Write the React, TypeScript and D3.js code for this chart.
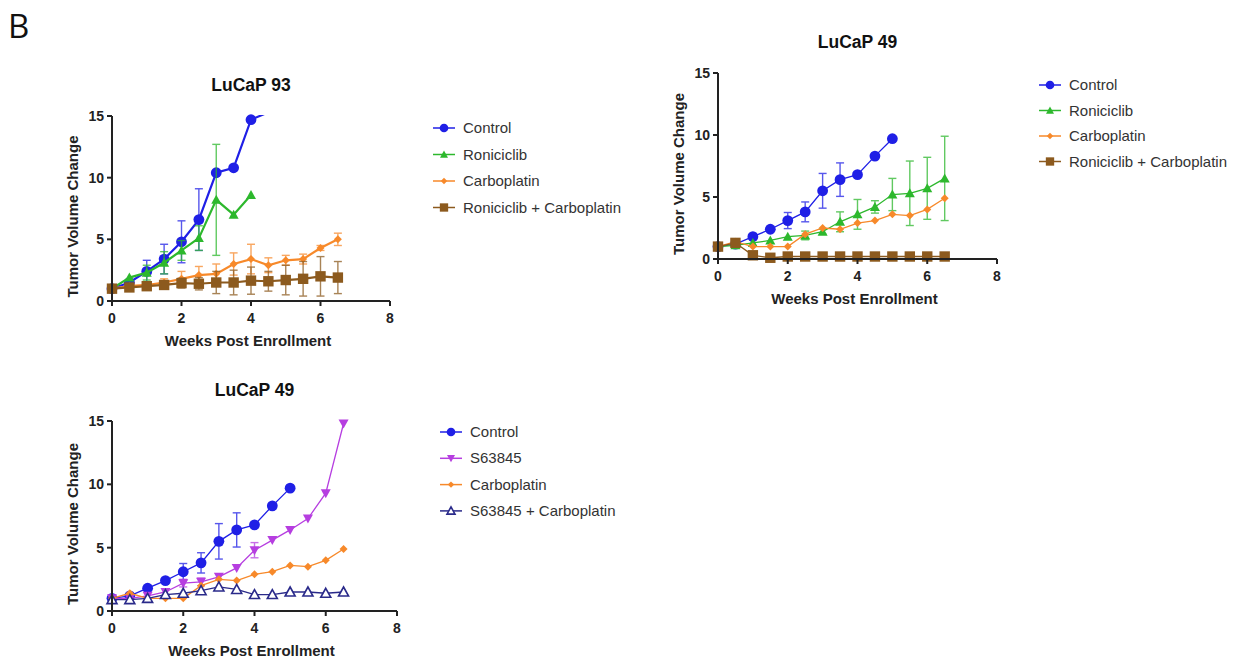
import React from 'react';
import * as d3 from 'd3';

// weeks post enrollment (shared x values)
const weeks = [0, 0.5, 1, 1.5, 2, 2.5, 3, 3.5, 4, 4.5, 5, 5.5, 6, 6.5];

// LuCaP 93
const lc93Control = [1, 1.5, 2.4, 3.4, 4.8, 6.6, 10.4, 10.8, 14.7, 15.3];
const lc93ControlErr = [0, 0, 0.9, 1.2, 1.7, 2.5, 0, 0, 0, 0];
const lc93Ronic = [1, 1.9, 2.3, 3.1, 4.1, 5.1, 8.2, 7.0, 8.6];
const lc93RonicErr = [0, 0, 0.6, 0.9, 0.8, 1.0, 4.5, 0, 0];
const lc93Carbo = [1, 1.2, 1.3, 1.5, 1.8, 2.1, 2.2, 3.0, 3.4, 2.9, 3.3, 3.4, 4.3, 5.0];
const lc93CarboErr = [0, 0, 0.2, 0.3, 0.6, 0.7, 0.8, 0.9, 1.2, 0.6, 0.4, 0.4, 0.2, 0.5];
const lc93Combo = [1, 1.1, 1.2, 1.3, 1.45, 1.4, 1.5, 1.5, 1.65, 1.6, 1.7, 1.8, 2.0, 1.9];
const lc93ComboErr = [0, 0.1, 0.2, 0.3, 0.4, 0.5, 0.9, 1.0, 1.1, 0.8, 1.2, 1.4, 1.6, 1.3];

// LuCaP 49
const lc49Control = [1, 1.2, 1.8, 2.4, 3.1, 3.8, 5.5, 6.4, 6.8, 8.3, 9.7];
const lc49ControlErr = [0, 0, 0, 0, 0.65, 0.8, 1.4, 1.35, 0, 0, 0];
const lc49Ronic = [1, 1.1, 1.3, 1.5, 1.8, 1.9, 2.2, 3.0, 3.6, 4.2, 5.2, 5.3, 5.7, 6.5];
const lc49RonicErr = [0, 0, 0, 0, 0, 0.35, 0.2, 0.8, 1.2, 0.5, 1.3, 2.6, 2.5, 3.4];
const lc49Carbo = [1, 1.4, 1.0, 1.0, 1.0, 2.0, 2.5, 2.4, 2.9, 3.1, 3.6, 3.5, 4.0, 4.9];
const lc49Combo = [1, 1.3, 0.3, 0.1, 0.2, 0.2, 0.2, 0.2, 0.2, 0.2, 0.2, 0.2, 0.2, 0.2];
const lc49S63 = [1, 1.0, 1.2, 1.5, 2.2, 2.3, 2.7, 3.4, 4.8, 5.6, 6.4, 7.3, 9.3, 14.8];
const lc49S63Err = [0, 0, 0, 0, 0.3, 0.3, 0, 0, 0.6, 0, 0, 0, 0, 0];
const lc49S63Combo = [0.9, 0.9, 1.0, 1.3, 1.4, 1.6, 1.9, 1.7, 1.3, 1.3, 1.5, 1.5, 1.4, 1.5];

const xTicks = [0, 2, 4, 6, 8];
const yTicks = [0, 5, 10, 15];

const BLUE = '#1f1fe6';
const GREEN = '#2db82d';
const ORANGE = '#f7892a';
const BROWN = '#8c5a1e';
const PURPLE = '#b63ee0';
const NAVY = '#2a2a8a';

const FONT = '"Liberation Sans", Arial, sans-serif';

type Shape = 'circle' | 'tri' | 'diamond' | 'square' | 'triDown' | 'triOpen';
type Series = { name: string; values: number[]; err?: number[]; color: string; shape: Shape };

const Marker = ({ shape, x, y, color, s = 1 }: { shape: Shape; x: number; y: number; color: string; s?: number }) => {
  if (shape === 'circle') return <circle cx={x} cy={y} r={5.4 * s} fill={color} />;
  if (shape === 'square') return <rect x={x - 5.2 * s} y={y - 5.2 * s} width={10.4 * s} height={10.4 * s} fill={color} />;
  if (shape === 'diamond') {
    const r = 4 * s;
    return <path d={`M${x},${y - r}L${x + r},${y}L${x},${y + r}L${x - r},${y}Z`} fill={color} />;
  }
  const r = 5 * s;
  if (shape === 'tri') return <path d={`M${x},${y - r}L${x + r},${y + r * 0.8}L${x - r},${y + r * 0.8}Z`} fill={color} />;
  if (shape === 'triDown') return <path d={`M${x},${y + r}L${x + r},${y - r * 0.8}L${x - r},${y - r * 0.8}Z`} fill={color} />;
  return <path d={`M${x},${y - r}L${x + r},${y + r * 0.8}L${x - r},${y + r * 0.8}Z`} fill="#fff" stroke={color} strokeWidth={1.6} />;
};

const Panel = ({ title, series, x0, x1, yTop, yBot, lw, legendX, legendY, legendGap, uid }: {
  title: string; series: Series[]; x0: number; x1: number; yTop: number; yBot: number; lw: number;
  legendX: number; legendY: number; legendGap: number; uid: string;
}) => {
  const x = d3.scaleLinear().domain([0, 8]).range([x0, x1]);
  const y = d3.scaleLinear().domain([0, 15]).range([yBot, yTop]);
  const line = d3.line<number>().x((_, i) => x(weeks[i])).y(d => y(d));
  return (
    <g>
      <defs>
        <clipPath id={`clip-${uid}`}>
          <rect x={x0 - 10} y={yTop - 1} width={x1 - x0 + 20} height={yBot - yTop + 20} />
        </clipPath>
      </defs>
      <text x={(x0 + x1) / 2} y={yTop - 25} textAnchor="middle" fontFamily={FONT} fontWeight="bold" fontSize={17.5} fill="#111">{title}</text>
      {series.map(s => (
        <g key={s.name}>
          {s.err && s.values.map((v, i) => s.err![i] > 0 ? (
            <g key={i} stroke={s.color} strokeWidth={1.4} opacity={0.75}>
              <line x1={x(weeks[i])} x2={x(weeks[i])} y1={y(v - s.err![i])} y2={y(v + s.err![i])} />
              <line x1={x(weeks[i]) - 4} x2={x(weeks[i]) + 4} y1={y(v + s.err![i])} y2={y(v + s.err![i])} />
              <line x1={x(weeks[i]) - 4} x2={x(weeks[i]) + 4} y1={y(v - s.err![i])} y2={y(v - s.err![i])} />
            </g>
          ) : null)}
          <path d={line(s.values) || ''} fill="none" stroke={s.color} strokeWidth={lw} clipPath={`url(#clip-${uid})`} />
          {s.values.map((v, i) => v <= 15 ? <Marker key={i} shape={s.shape} x={x(weeks[i])} y={y(v)} color={s.color} /> : null)}
        </g>
      ))}
      {/* axes */}
      <line x1={x0} x2={x0} y1={yTop} y2={yBot + 1} stroke="#222" strokeWidth={2} />
      <line x1={x0 - 1} x2={x1} y1={yBot} y2={yBot} stroke="#222" strokeWidth={2} />
      {yTicks.map(t => (
        <g key={t}>
          <line x1={x0 - 5} x2={x0} y1={y(t)} y2={y(t)} stroke="#222" strokeWidth={2} />
          <text x={x0 - 8} y={y(t) + 5} textAnchor="end" fontFamily={FONT} fontWeight="bold" fontSize={14} fill="#222">{t}</text>
        </g>
      ))}
      {xTicks.map(t => (
        <g key={t}>
          <line x1={x(t)} x2={x(t)} y1={yBot} y2={yBot + 5} stroke="#222" strokeWidth={2} />
          <text x={x(t)} y={yBot + 22} textAnchor="middle" fontFamily={FONT} fontWeight="bold" fontSize={14} fill="#222">{t}</text>
        </g>
      ))}
      <text x={(x0 + x1) / 2 - 3} y={yBot + 45} textAnchor="middle" fontFamily={FONT} fontWeight="bold" fontSize={15} fill="#222">Weeks Post Enrollment</text>
      <text transform={`translate(${x0 - 34},${(yTop + yBot) / 2 + 8}) rotate(-90)`} textAnchor="middle" fontFamily={FONT} fontWeight="bold" fontSize={15} fill="#222">Tumor Volume Change</text>
      {/* legend */}
      {series.map((s, i) => {
        const ly = legendY + i * legendGap;
        return (
          <g key={s.name}>
            <line x1={legendX} x2={legendX + 22} y1={ly} y2={ly} stroke={s.color} strokeWidth={1.5} />
            <Marker shape={s.shape} x={legendX + 11} y={ly} color={s.color} s={0.8} />
            <text x={legendX + 30} y={ly + 5} fontFamily={FONT} fontSize={15} fill="#333">{s.name}</text>
          </g>
        );
      })}
    </g>
  );
};

export default function App() {
  const s93: Series[] = [
    { name: 'Control', values: lc93Control, err: lc93ControlErr, color: BLUE, shape: 'circle' },
    { name: 'Roniciclib', values: lc93Ronic, err: lc93RonicErr, color: GREEN, shape: 'tri' },
    { name: 'Carboplatin', values: lc93Carbo, err: lc93CarboErr, color: ORANGE, shape: 'diamond' },
    { name: 'Roniciclib + Carboplatin', values: lc93Combo, err: lc93ComboErr, color: BROWN, shape: 'square' },
  ];
  const s49: Series[] = [
    { name: 'Control', values: lc49Control, err: lc49ControlErr, color: BLUE, shape: 'circle' },
    { name: 'Roniciclib', values: lc49Ronic, err: lc49RonicErr, color: GREEN, shape: 'tri' },
    { name: 'Carboplatin', values: lc49Carbo, color: ORANGE, shape: 'diamond' },
    { name: 'Roniciclib + Carboplatin', values: lc49Combo, color: BROWN, shape: 'square' },
  ];
  const s49b: Series[] = [
    { name: 'Control', values: lc49Control, err: lc49ControlErr, color: BLUE, shape: 'circle' },
    { name: 'S63845', values: lc49S63, err: lc49S63Err, color: PURPLE, shape: 'triDown' },
    { name: 'Carboplatin', values: lc49Carbo, color: ORANGE, shape: 'diamond' },
    { name: 'S63845 + Carboplatin', values: lc49S63Combo, color: NAVY, shape: 'triOpen' },
  ];
  return (
    <div style={{ position: 'absolute', left: 0, top: 0 }}>
      <svg width={1241} height={667} style={{ display: 'block', background: '#fff' }}>
        <text x={8} y={38} fontFamily='"Open Sans", sans-serif' fontSize={33} fill="#111">B</text>
        <Panel uid="a" title="LuCaP 93" series={s93} x0={112} x1={390} yTop={116} yBot={301} lw={2.2}
          legendX={433} legendY={128} legendGap={26.5} />
        <Panel uid="b" title="LuCaP 49" series={s49} x0={718} x1={997} yTop={73} yBot={259} lw={1.3}
          legendX={1039} legendY={85} legendGap={25.5} />
        <Panel uid="c" title="LuCaP 49" series={s49b} x0={112} x1={397} yTop={421} yBot={611} lw={1.3}
          legendX={440} legendY={432} legendGap={26.3} />
      </svg>
    </div>
  );
}
